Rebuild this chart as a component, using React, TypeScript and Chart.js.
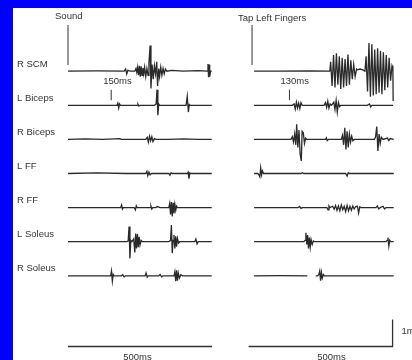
import React, { useEffect, useRef } from "react";
import { Chart, registerables } from "chart.js";

Chart.register(...registerables);

type P = [number, number | null];

// ---- categories / text ----
const CHANNELS = ["R SCM", "L Biceps", "R Biceps", "L FF", "R FF", "L Soleus", "R Soleus"];
const LEFT_EVENT = "Sound";
const RIGHT_EVENT = "Tap Left Fingers";
const LEFT_LATENCY_MS = 150;
const RIGHT_LATENCY_MS = 130;
const TIME_BAR_MS = 500;
const AMP_BAR_MV = 1;

// ---- left panel traces (t in ms after "Sound", value in mV) ----
const L_RSCM: P[] = [[0,0],[100,0.01],[195,0],[200,0.08],[204,-0.1],[208,0.04],[215,0],[232,0],[236,0.1],[239,-0.05],[242,0.15],[245,-0.15],[248,0.2],[251,-0.2],[254,0.18],[257,-0.15],[260,0.12],[263,-0.1],[266,0.15],[270,-0.2],[274,0.1],[278,-0.15],[281,0.3],[285,0.95],[288,-0.64],[292,0.25],[296,-0.3],[300,0.2],[304,-0.1],[308,0.35],[311,-0.55],[315,0.1],[318,-0.2],[322,0.15],[326,-0.15],[330,0.1],[334,-0.1],[338,0.08],[343,0],[360,0.03],[400,0],[450,0.02],[484,0],[486,0.27],[488,-0.22],[490,0.25],[492,-0.2],[495,0],[499,0]];
const L_LBICEPS: P[] = [[0,0],[80,0],[170,0],[173,0.08],[176,-0.1],[179,0.05],[182,0],[240,0],[243,0.04],[246,-0.03],[250,0],[300,0],[306,0.05],[309,0.58],[312,-0.37],[315,0.05],[318,0],[410,0],[414,0.33],[418,-0.25],[421,0.03],[424,0],[499,0]];
const L_RBICEPS: P[] = [[0,0],[60,0.02],[120,0],[180,0.03],[185,0],[270,0],[275,0.08],[279,-0.1],[283,0.12],[287,-0.05],[291,0.1],[295,-0.08],[300,0.03],[305,0],[350,0],[400,0.02],[450,0],[499,0]];
const L_LFF: P[] = [[0,0],[100,0.02],[200,0],[270,0],[274,0.08],[277,-0.08],[281,0.05],[285,-0.05],[290,0],[350,0],[354,-0.06],[358,0.03],[362,0],[414,0],[417,0.05],[420,-0.19],[423,0.02],[426,0],[499,0]];
const L_RFF: P[] = [[0,0],[150,0],[183,0],[186,0.1],[189,-0.05],[192,0],[230,0],[234,-0.08],[237,0.07],[240,0],[285,0],[288,0.06],[291,-0.05],[294,0],[305,0],[310,0.04],[320,0],[350,0],[353,0.15],[356,-0.25],[359,0.21],[362,-0.33],[365,0.18],[368,-0.22],[371,0.12],[374,-0.1],[377,0.05],[380,0],[499,0]];
const L_LSOLEUS: P[] = [[0,0],[150,0],[205,0],[209,0.03],[212,0.56],[215,-0.62],[218,0.05],[222,0],[228,0.1],[232,-0.4],[235,0.3],[238,-0.25],[241,0.28],[244,-0.2],[247,0.18],[250,-0.12],[254,0.05],[258,0],[350,0],[356,0.05],[359,0.62],[362,-0.43],[365,0.05],[368,0.25],[371,-0.25],[374,0.2],[377,-0.18],[380,0.12],[384,-0.05],[388,0],[440,0],[444,0.1],[448,-0.08],[452,0],[499,0]];
const L_RSOLEUS: P[] = [[0,0],[140,0],[148,0],[151,0.18],[154,-0.2],[157,0.05],[160,0],[185,0],[190,0.04],[195,-0.04],[200,0],[268,0],[271,0.1],[275,-0.05],[279,0],[315,0],[320,0.05],[325,-0.04],[330,0],[368,0],[371,0.15],[374,-0.2],[377,0.2],[380,-0.18],[383,0.1],[387,-0.08],[392,0.04],[398,0],[499,0]];

// ---- right panel traces (t in ms after "Tap Left Fingers", value in mV) ----
const R_RSCM: P[] = [[7,0],[100,0],[200,0.01],[270,0],[273,0.35],[278,-0.55],[283,0.6],[288,-0.6],[293,0.66],[298,-0.5],[303,0.55],[308,-0.66],[313,0.5],[318,-0.6],[323,0.45],[328,-0.55],[333,0.62],[338,-0.5],[343,0.4],[348,-0.3],[353,0.25],[358,-0.2],[363,0.08],[366,0.05],[375,0.08],[385,0.05],[392,0],[396,0.55],[401,-0.75],[406,1.04],[411,-0.95],[416,1.0],[421,-0.9],[426,0.8],[431,-0.85],[436,0.85],[441,-0.8],[446,0.75],[451,-0.85],[456,0.7],[461,-0.7],[466,0.6],[471,-0.6],[476,0.5],[481,-0.35],[486,0.2],[489,0.1],[490,-1.1]];
const R_LBICEPS: P[] = [[7,0],[100,0],[140,0],[146,0.05],[150,-0.14],[154,0.12],[158,-0.1],[162,0.08],[166,-0.12],[170,0.1],[174,0],[250,0],[255,0.1],[259,-0.08],[263,0.15],[267,-0.1],[271,0.05],[276,0],[284,0.12],[288,-0.15],[292,0.18],[296,-0.25],[300,0.1],[304,-0.05],[308,0],[400,0],[408,0.05],[412,-0.06],[416,0],[490,0]];
const R_RBICEPS: P[] = [[7,0],[80,0],[135,0],[140,0.1],[144,-0.1],[148,0.2],[152,-0.2],[155,0.56],[159,-0.3],[163,0.35],[167,-0.55],[171,-0.8],[174,0.3],[178,0.25],[182,-0.15],[186,0.05],[190,0],[255,0],[258,0.06],[261,-0.04],[265,0],[310,0],[314,0.15],[318,-0.2],[322,0.43],[326,-0.37],[330,0.3],[334,-0.3],[338,0.2],[342,-0.1],[346,0.12],[350,-0.05],[355,0],[425,0],[429,0.1],[433,0.48],[437,-0.43],[441,0.2],[445,-0.15],[449,0.08],[455,0],[470,0.05],[475,-0.04],[480,0.03],[492,0]];
const R_LFF: P[] = [[7,0],[20,0],[24,-0.05],[27,-0.12],[30,0.21],[33,-0.05],[36,0.1],[40,0],[100,0],[170,0],[175,0.03],[180,0],[325,0],[330,-0.1],[334,0.03],[338,0],[400,0],[492,0]];
const R_RFF: P[] = [[7,0],[100,0],[160,0],[165,0.04],[170,-0.03],[175,0],[260,0],[264,-0.08],[267,0.06],[270,0],[280,0.05],[285,-0.06],[290,0.08],[295,-0.1],[300,0.06],[305,-0.12],[310,0.1],[315,-0.08],[320,0.05],[325,-0.15],[330,0.08],[335,-0.12],[340,0.05],[345,-0.1],[350,0.06],[355,-0.05],[360,0.04],[366,0.05],[370,-0.2],[374,0.03],[378,0],[430,0],[435,0.06],[440,-0.05],[445,0],[455,0.05],[460,-0.05],[465,0],[492,0]];
const R_LSOLEUS: P[] = [[7,0],[100,0],[180,0],[184,0.05],[187,0.33],[190,-0.1],[193,0.25],[196,-0.25],[199,0.15],[202,-0.2],[205,0.08],[209,-0.1],[213,0.03],[218,0],[300,0],[400,0],[465,0],[469,0.05],[472,0.15],[475,-0.16],[478,0.05],[481,0],[492,0]];
const R_RSOLEUS: P[] = [[7,0],[100,0.01],[192,0],[206,null],[221,0],[228,0],[232,0.05],[235,0.18],[238,-0.18],[241,0.12],[244,-0.08],[248,0.05],[252,0],[350,0],[492,0]];

const LEFT_TRACES = [L_RSCM, L_LBICEPS, L_RBICEPS, L_LFF, L_RFF, L_LSOLEUS, L_RSOLEUS];
const RIGHT_TRACES = [R_RSCM, R_LBICEPS, R_RBICEPS, R_LFF, R_RFF, R_LSOLEUS, R_RSOLEUS];

// event marker (mV above R SCM baseline) and latency tick (mV above L Biceps baseline)
const EVENT_MARK: [number, number] = [0.23, 1.71];
const LATENCY_MARK: [number, number] = [0.19, 0.58];

// ---- layout (scale ranges) ----
const PX_PER_MS = 0.288;
const PX_PER_MV = 27;
const W = 399;
const H = 352;
const X_MIN = -191;
const X_MAX = X_MIN + W / PX_PER_MS;
const Y_MAX = 0;
const Y_MIN = -H / PX_PER_MV;
const RIGHT_OFFSET = 639;
const BASE0 = -2.341;
const SPACING = -1.263;
const BAR_Y = -12.537;
const LEFT_BAR: [number, number] = [0, 500];
const RIGHT_BAR: [number, number] = [-12, 488];

const INK = "#2a2a2a";
const FONT = '9.5px "Liberation Sans", Arial, sans-serif';

function toPts(arr: P[], dx: number, base: number) {
  return arr.map(([t, v]) => ({ x: t + dx, y: v === null ? null : v + base }));
}

export default function App() {
  const ref = useRef<HTMLCanvasElement | null>(null);
  useEffect(() => {
    const canvas = ref.current;
    if (!canvas) return;
    const datasets: any[] = [];
    const line = (data: any[], width = 1.3, color = INK) => ({
      data,
      showLine: true,
      borderColor: color,
      borderWidth: width,
      pointRadius: 0,
      spanGaps: false,
      fill: false,
      tension: 0,
    });
    CHANNELS.forEach((_, i) => {
      const base = BASE0 + SPACING * i;
      datasets.push(line(toPts(LEFT_TRACES[i], 0, base)));
      datasets.push(line(toPts(RIGHT_TRACES[i], RIGHT_OFFSET, base)));
    });
    const b0 = BASE0;
    const b1 = BASE0 + SPACING;
    datasets.push(line([{ x: 0, y: b0 + EVENT_MARK[0] }, { x: 0, y: b0 + EVENT_MARK[1] }], 1.1, "#444"));
    datasets.push(line([{ x: RIGHT_OFFSET, y: b0 + EVENT_MARK[0] }, { x: RIGHT_OFFSET, y: b0 + EVENT_MARK[1] }], 1.1, "#444"));
    datasets.push(line([{ x: LEFT_LATENCY_MS, y: b1 + LATENCY_MARK[0] }, { x: LEFT_LATENCY_MS, y: b1 + LATENCY_MARK[1] }], 1.1, "#444"));
    datasets.push(line([{ x: RIGHT_OFFSET + RIGHT_LATENCY_MS, y: b1 + LATENCY_MARK[0] }, { x: RIGHT_OFFSET + RIGHT_LATENCY_MS, y: b1 + LATENCY_MARK[1] }], 1.1, "#444"));
    datasets.push(line([{ x: LEFT_BAR[0], y: BAR_Y }, { x: LEFT_BAR[1], y: BAR_Y }], 1.3, "#333"));
    datasets.push(line([
      { x: RIGHT_OFFSET + RIGHT_BAR[0], y: BAR_Y },
      { x: RIGHT_OFFSET + RIGHT_BAR[1], y: BAR_Y },
      { x: RIGHT_OFFSET + RIGHT_BAR[1], y: BAR_Y + AMP_BAR_MV },
    ], 1.3, "#333"));

    const textPlugin = {
      id: "texts",
      afterDatasetsDraw(chart: any) {
        const { ctx } = chart;
        const xs = chart.scales.x;
        const ys = chart.scales.y;
        ctx.save();
        ctx.font = FONT;
        ctx.fillStyle = "#333";
        ctx.textBaseline = "middle";
        ctx.textAlign = "left";
        CHANNELS.forEach((name, i) => {
          ctx.fillText(name, 4, ys.getPixelForValue(BASE0 + SPACING * i) - 7);
        });
        const evTop = ys.getPixelForValue(b0 + EVENT_MARK[1]);
        ctx.fillText(LEFT_EVENT, xs.getPixelForValue(0) - 13, evTop - 9);
        ctx.fillText(RIGHT_EVENT, xs.getPixelForValue(RIGHT_OFFSET) - 14, evTop - 7);
        const latTop = ys.getPixelForValue(b1 + LATENCY_MARK[1]);
        ctx.fillText(LEFT_LATENCY_MS + "ms", xs.getPixelForValue(LEFT_LATENCY_MS) - 8, latTop - 8);
        ctx.fillText(RIGHT_LATENCY_MS + "ms", xs.getPixelForValue(RIGHT_OFFSET + RIGHT_LATENCY_MS) - 9, latTop - 8);
        const barPx = ys.getPixelForValue(BAR_Y);
        ctx.textAlign = "center";
        ctx.fillText(TIME_BAR_MS + "ms", xs.getPixelForValue(241), barPx + 11);
        ctx.fillText(TIME_BAR_MS + "ms", xs.getPixelForValue(RIGHT_OFFSET + 276), barPx + 11);
        ctx.textAlign = "left";
        ctx.fillText(AMP_BAR_MV + "mV", xs.getPixelForValue(RIGHT_OFFSET + RIGHT_BAR[1]) + 9, ys.getPixelForValue(BAR_Y + AMP_BAR_MV / 2) - 2);
        ctx.restore();
      },
    };

    const chart = new Chart(canvas, {
      type: "scatter",
      data: { datasets },
      options: {
        animation: false,
        responsive: false,
        maintainAspectRatio: false,
        events: [],
        layout: { padding: 0 },
        plugins: { legend: { display: false }, tooltip: { enabled: false } },
        scales: {
          x: { type: "linear", display: false, min: X_MIN, max: X_MAX },
          y: { type: "linear", display: false, min: Y_MIN, max: Y_MAX },
        },
      },
      plugins: [textPlugin],
    } as any);
    return () => chart.destroy();
  }, []);

  return (
    <div style={{ position: "fixed", left: 0, top: 0, width: 412, height: 360, background: "#0000ff", overflow: "hidden" }}>
      <div style={{ position: "absolute", left: 13, top: 8, width: W, height: H, background: "#fff" }}>
        <canvas ref={ref} width={W} height={H} style={{ display: "block", width: W, height: H }} />
      </div>
    </div>
  );
}
